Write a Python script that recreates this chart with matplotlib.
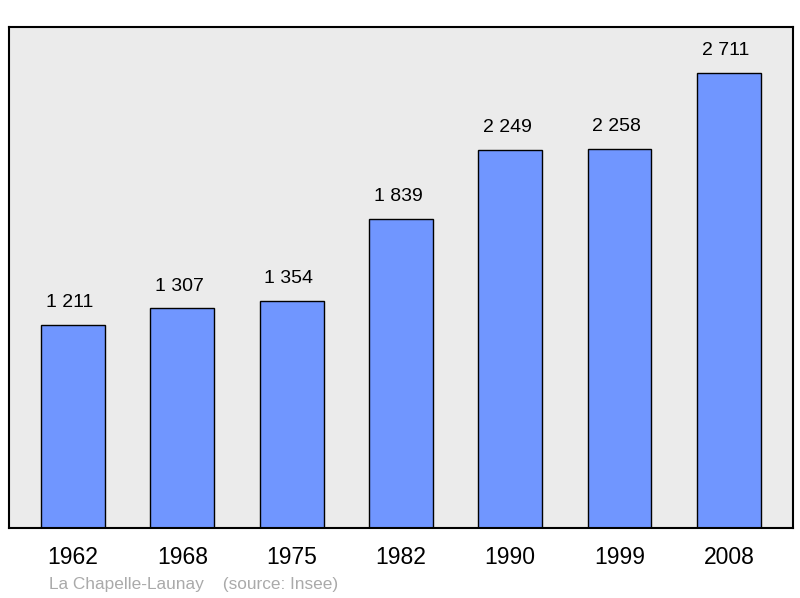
import numpy as np
import matplotlib
matplotlib.use("Agg")
import matplotlib.pyplot as plt

# Population data (source: Insee)
years  = ["1962", "1968", "1975", "1982", "1990", "1999", "2008"]
values = [1211, 1307, 1354, 1839, 2249, 2258, 2711]
labels = ["1 211", "1 307", "1 354", "1 839", "2 249", "2 258", "2 711"]

plt.rcParams["font.family"] = ["Liberation Sans", "DejaVu Sans"]

fig = plt.figure(figsize=(8, 5.98), dpi=100)
ax = fig.add_axes([9 / 800, 1 - 528 / 598, 784 / 800, 501 / 598])
ax.set_facecolor("#ebebeb")

x = np.arange(len(years))
ax.bar(x, values, width=0.585, color="#7096ff", edgecolor="black", linewidth=1)

# value labels above each bar
for xi, v, lab in zip(x, values, labels):
    ax.annotate(lab, (xi, v), xytext=(-2, 16), textcoords="offset points",
                ha="center", va="center", fontsize=14)

ax.set_xlim(-0.585, 6.587)
ax.set_ylim(0, 2982)
ax.set_yticks([])
ax.set_xticks(x)
ax.set_xticklabels(years, fontsize=16.5)
ax.tick_params(axis="x", length=0, pad=13)
for s in ax.spines.values():
    s.set_linewidth(1.5)

fig.text(49 / 800, 1 - 584 / 598, "La Chapelle-Launay    (source: Insee)",
         fontsize=12.4, color="#aaaaaa", va="center")

fig.savefig("out.png", dpi=100)
